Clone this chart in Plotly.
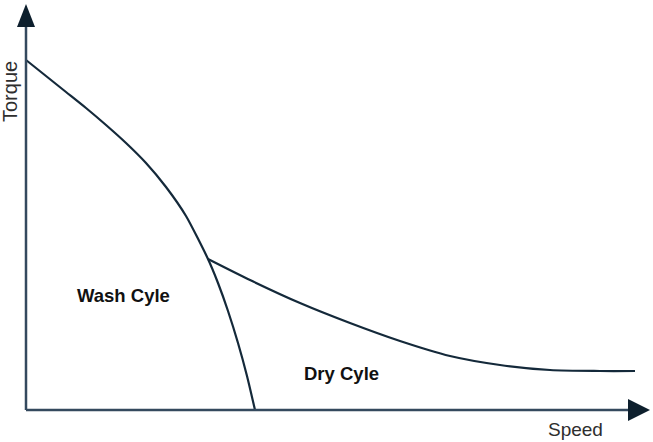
import plotly.graph_objects as go

# Data (arbitrary units)
wash_speed = [0, 20, 40, 60, 80, 100, 120, 140, 160, 182, 192, 202, 212, 221, 229]
wash_torque = [350, 334, 318, 302, 285, 267, 247, 223, 194, 151, 127, 99, 67, 34, 0]
dry_speed = [182, 224, 274, 324, 374, 424, 474, 524, 574, 609]
dry_torque = [151, 130, 107, 87, 69, 54, 45, 40, 39, 39]

line_color = "#14293a"
axis_color = "#34495e"

fig = go.Figure()
fig.add_trace(go.Scatter(x=wash_speed, y=wash_torque, mode="lines",
                         line=dict(color=line_color, width=2.2, shape="spline", smoothing=0.6),
                         showlegend=False, hoverinfo="skip"))
fig.add_trace(go.Scatter(x=dry_speed, y=dry_torque, mode="lines",
                         line=dict(color=line_color, width=2.2, shape="spline", smoothing=0.8),
                         showlegend=False, hoverinfo="skip"))

shapes = [
    dict(type="line", x0=0, y0=0, x1=606, y1=0, line=dict(color=axis_color, width=2.5)),
    dict(type="line", x0=0, y0=0, x1=0, y1=387, line=dict(color=axis_color, width=2.5)),
    dict(type="path", path="M 0 406 L -9 383 L 9 383 Z", fillcolor="#0d1f2d", line=dict(width=0)),
    dict(type="path", path="M 624 0 L 602 11 L 602 -11 Z", fillcolor="#0d1f2d", line=dict(width=0)),
]

font = "Arial, Liberation Sans, sans-serif"
annotations = [
    dict(x=-16, y=318, text="Torque", textangle=-90, showarrow=False,
         font=dict(family=font, size=20, color="#2e2e2e"), xanchor="center", yanchor="middle"),
    dict(x=549, y=-19, text="Speed", showarrow=False,
         font=dict(family=font, size=19, color="#2e2e2e"), xanchor="center", yanchor="middle"),
    dict(x=97, y=115, text="<b>Wash Cyle</b>", showarrow=False,
         font=dict(family=font, size=18.5, color="#111111"), xanchor="center", yanchor="middle"),
    dict(x=315, y=37, text="<b>Dry Cyle</b>", showarrow=False,
         font=dict(family=font, size=18.5, color="#111111"), xanchor="center", yanchor="middle"),
]

fig.update_layout(
    width=653, height=442,
    margin=dict(l=0, r=0, t=0, b=0),
    paper_bgcolor="white", plot_bgcolor="white",
    xaxis=dict(range=[-26, 627], visible=False, fixedrange=True),
    yaxis=dict(range=[-32, 410], visible=False, fixedrange=True),
    shapes=shapes, annotations=annotations,
)

fig.write_html("out.html")
